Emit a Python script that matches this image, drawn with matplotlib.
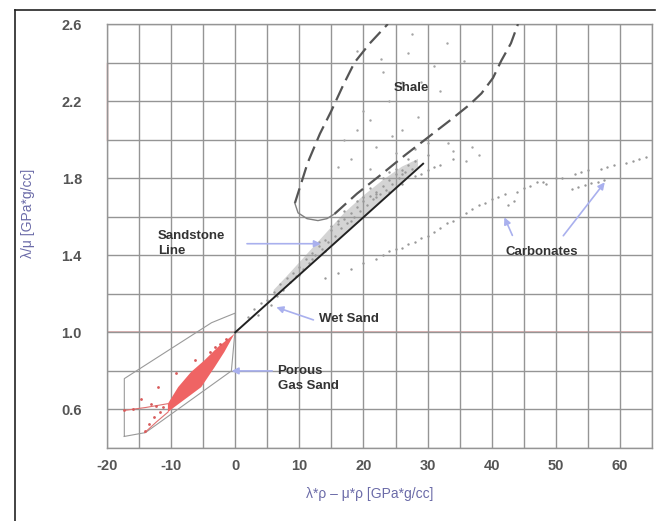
import matplotlib.pyplot as plt
from matplotlib.lines import Line2D

plt.rcParams['font.family'] = ['Liberation Sans', 'DejaVu Sans']
plt.rcParams['axes.unicode_minus'] = False

# --- data (x = lambda*rho - mu*rho, y = lambda/mu) ---
sand_line_x = [0, 29.3]
sand_line_y = [1.0, 1.875]

shale_left_x = [9.3, 11.3, 13.2, 15.0, 16.8, 18.6, 21.0, 23.8]
shale_left_y = [1.67, 1.88, 2.03, 2.15, 2.28, 2.40, 2.50, 2.60]
shale_bottom_x = [9.3, 9.8, 11.2, 12.9, 14.3, 15.5]
shale_bottom_y = [1.67, 1.62, 1.59, 1.58, 1.59, 1.615]
shale_right_x = [15.5, 19.0, 22.8, 26.5, 30.0, 33.5, 36.5, 38.4, 40.2, 41.5, 43.0, 44.1]
shale_right_y = [1.615, 1.72, 1.82, 1.92, 2.01, 2.10, 2.18, 2.24, 2.32, 2.41, 2.50, 2.60]

band_x = [6, 8, 11, 14, 17, 20, 23, 26, 28.5, 28.5, 26, 23, 20, 17, 14, 11, 8, 6]
band_y = [1.22, 1.29, 1.40, 1.51, 1.62, 1.71, 1.79, 1.86, 1.90,
          1.86, 1.78, 1.69, 1.60, 1.51, 1.42, 1.33, 1.24, 1.18]

sand_pts_x = [2, 3, 3.5, 4, 5, 5.5, 6, 6.5, 7, 7.5, 8, 8.5, 9, 9.5, 10, 10.5, 11, 11.5,
              12, 12.5, 13, 13.5, 14, 14.5, 15, 15.5, 16, 16.5, 17, 17.5, 18, 18.5,
              19, 19.5, 20, 20.5, 21, 21.5, 22, 22.5, 23, 23.5, 24, 24.5, 25, 25.5,
              26, 26.5, 27, 27.5, 28, 13, 15, 17, 19, 21, 23, 25, 27, 12, 16, 20, 24,
              18, 22, 26, 10, 14, 30, 31, 29]
sand_pts_y = [1.08, 1.12, 1.09, 1.15, 1.17, 1.14, 1.21, 1.19, 1.25, 1.22, 1.28, 1.26,
              1.31, 1.29, 1.34, 1.33, 1.38, 1.36, 1.41, 1.40, 1.45, 1.43, 1.48, 1.47,
              1.53, 1.50, 1.56, 1.54, 1.59, 1.57, 1.62, 1.60, 1.65, 1.63, 1.68, 1.66,
              1.71, 1.69, 1.73, 1.72, 1.76, 1.74, 1.79, 1.77, 1.82, 1.80, 1.84, 1.83,
              1.87, 1.85, 1.89, 1.47, 1.55, 1.63, 1.68, 1.75, 1.80, 1.85, 1.90, 1.38,
              1.58, 1.70, 1.83, 1.58, 1.72, 1.82, 1.30, 1.42, 1.92, 1.86, 1.82]

shale_pts_x = [17, 19, 21, 22.8, 24, 25, 26, 23, 27, 19, 22, 26, 28, 30, 16, 18, 30,
               33.2, 31, 35.7, 36, 38, 20, 24.5, 28.5, 32, 34, 37, 29, 21, 25, 27.5, 33]
shale_pts_y = [2.00, 2.05, 2.10, 2.42, 2.20, 2.28, 2.30, 2.35, 2.45, 2.46, 1.96, 2.05,
               1.95, 1.98, 1.86, 1.90, 2.20, 1.98, 2.38, 2.41, 1.89, 1.92, 2.15, 2.02,
               2.12, 2.25, 1.94, 1.96, 2.30, 1.85, 1.93, 2.55, 2.50]

carb_x = [14, 16, 18, 20, 22, 23, 24, 25, 26, 27, 28, 29, 30, 31, 32, 33, 34, 35, 36,
          37, 38, 39, 40, 41, 42, 44, 45, 46, 47, 48, 50, 51, 53, 54, 55, 57, 58, 59,
          61, 62, 63, 64, 52.5, 53.5, 54.5, 55.5, 56.5, 57.5, 22, 24, 26, 28, 30,
          32, 34, 42.5, 43.5, 48.5]
carb_y = [1.28, 1.31, 1.33, 1.36, 1.38, 1.40, 1.42, 1.43, 1.44, 1.46, 1.47, 1.49,
          1.50, 1.52, 1.54, 1.57, 1.58, 1.60, 1.62, 1.64, 1.66, 1.67, 1.69, 1.70,
          1.72, 1.73, 1.75, 1.76, 1.78, 1.78, 1.80, 1.80, 1.82, 1.83, 1.84, 1.85,
          1.86, 1.87, 1.88, 1.89, 1.90, 1.91, 1.745, 1.755, 1.765, 1.775, 1.782,
          1.79, 1.70, 1.73, 1.77, 1.81, 1.84, 1.87, 1.90, 1.66, 1.68, 1.77]

gas_fill_x = [-0.1, -2.7, -4.8, -6.9, -8.9, -10.5, -10.5, -9.5, -7.4, -5.3, -3.2, -1.7, -0.4]
gas_fill_y = [0.993, 0.924, 0.855, 0.794, 0.716, 0.63, 0.586, 0.612, 0.664, 0.716, 0.82, 0.898, 0.976]

gas_pts_x = [-12.1, -9.2, -6.3, -3.2, -2.4, -14.7, -13.1, -12.3, -11.3, -11.8, -12.6,
             -13.4, -14.1, -17.3, -16.0, -1.5, -4.0]
gas_pts_y = [0.716, 0.79, 0.855, 0.924, 0.94, 0.655, 0.63, 0.62, 0.612, 0.586, 0.56,
             0.526, 0.49, 0.595, 0.604, 0.965, 0.90]
gas_streak1_x = [-17.3, -14.0, -10.5]
gas_streak1_y = [0.595, 0.61, 0.63]
gas_streak2_x = [-14.1, -12.3, -10.5]
gas_streak2_y = [0.48, 0.535, 0.586]

outline_x = [-17.3, -17.3, -3.7, -1.5, 0.0, 0.0, -0.6, -14.0, -17.3]
outline_y = [0.46, 0.76, 1.05, 1.08, 1.10, 1.02, 0.80, 0.48, 0.46]

GRID = '#959595'
ARROW = '#a9b0ee'
TXT = '#333333'

fig = plt.figure(figsize=(6.57, 5.21), dpi=100)
ax = fig.add_axes([107 / 657, 73 / 521, 545 / 657, 424 / 521])

ax.set_xlim(-20, 65)
ax.set_ylim(0.4, 2.6)
ax.set_xticks([-20, -10, 0, 10, 20, 30, 40, 50, 60])
ax.set_yticks([0.6, 1.0, 1.4, 1.8, 2.2, 2.6])
ax.set_yticklabels(['0.6', '1.0', '1.4', '1.8', '2.2', '2.6'])
ax.set_xticks(range(-20, 66, 5), minor=True)
ax.set_yticks([0.4 + 0.2 * i for i in range(12)], minor=True)
ax.grid(True, which='both', color=GRID, lw=1.0)
ax.tick_params(which='both', length=0)
ax.tick_params(axis='y', pad=18, labelsize=10.5, labelcolor='#555555')
ax.tick_params(axis='x', pad=8, labelsize=10.5, labelcolor='#555555')
for lab in ax.get_xticklabels() + ax.get_yticklabels():
    lab.set_fontweight('bold')
for sp in ax.spines.values():
    sp.set_color(GRID)
    sp.set_linewidth(1.0)

# tinted grid lines as in the scan
ax.axhline(1.0, color='#dba0a0', lw=1.1, zorder=1)
ax.plot([-20, -20], [2.0, 2.4], color='#e08080', lw=1.0, zorder=1, clip_on=False)

# sandstone cluster
ax.fill(band_x, band_y, color='#a0a0a0', alpha=0.45, lw=0, zorder=2)
ax.scatter(sand_pts_x, sand_pts_y, s=3, color='#999999', lw=0, zorder=2)
ax.scatter(shale_pts_x, shale_pts_y, s=3, color='#a5a5a5', lw=0, zorder=2)
ax.scatter(carb_x, carb_y, s=3, color='#999999', lw=0, zorder=2)

# shale envelope
dash = dict(color='#555555', lw=1.6, ls=(0, (7, 3)), zorder=3)
ax.plot(shale_left_x, shale_left_y, **dash)
ax.plot(shale_bottom_x, shale_bottom_y, color='#808080', lw=1.0, zorder=3)
ax.plot(shale_right_x, shale_right_y, **dash)

# porous gas sand
ax.plot(outline_x, outline_y, color='#9a9a9a', lw=0.8, zorder=3)
ax.fill(gas_fill_x, gas_fill_y, color='#ef6464', lw=0, zorder=3)
ax.plot(gas_streak1_x, gas_streak1_y, color='#e07070', lw=0.8, zorder=3)
ax.plot(gas_streak2_x, gas_streak2_y, color='#e07070', lw=0.8, zorder=3)
ax.scatter(gas_pts_x, gas_pts_y, s=4, color='#d85a5a', lw=0, zorder=3)

# sandstone line
ax.plot(sand_line_x, sand_line_y, color='#222222', lw=1.4, zorder=4)

# labels and arrows
fs = 9.5
ax.text(27.5, 2.27, 'Shale', fontsize=fs, fontweight='bold', color=TXT, ha='center', va='center', zorder=5)
ax.text(-12.1, 1.46, 'Sandstone\nLine', fontsize=fs, fontweight='bold', color=TXT,
        ha='left', va='center', linespacing=1.3, zorder=5)
ax.text(13.0, 1.07, 'Wet Sand', fontsize=fs, fontweight='bold', color=TXT, ha='left', va='center', zorder=5)
ax.text(6.6, 0.76, 'Porous\nGas Sand', fontsize=fs, fontweight='bold', color=TXT,
        ha='left', va='center', linespacing=1.3, zorder=5)
ax.text(47.8, 1.415, 'Carbonates', fontsize=fs, fontweight='bold', color=TXT, ha='center', va='center', zorder=5)

arr = dict(arrowstyle='-|>', color=ARROW, lw=1.2, mutation_scale=10)
ax.annotate('', xy=(13.8, 1.46), xytext=(1.4, 1.46), arrowprops=arr, zorder=5)
ax.annotate('', xy=(6.0, 1.135), xytext=(12.6, 1.06), arrowprops=arr, zorder=5)
ax.annotate('', xy=(-1.0, 0.80), xytext=(6.2, 0.80), arrowprops=arr, zorder=5)
ax.annotate('', xy=(41.8, 1.61), xytext=(43.4, 1.49), arrowprops=arr, zorder=5)
ax.annotate('', xy=(57.9, 1.79), xytext=(50.9, 1.49), arrowprops=arr, zorder=5)

ax.set_xlabel('λ*ρ – μ*ρ [GPa*g/cc]', fontsize=10, color='#6b6ba8')
ax.set_ylabel('λ/μ [GPa*g/cc]', fontsize=10, color='#6b6ba8')
ax.xaxis.set_label_coords((370 - 107) / 545, (448 - 487) / 424)
ax.yaxis.set_label_coords((35 - 107) / 545, (448 - 213) / 424)

# scan frame (top and left edges)
fig.add_artist(Line2D([15 / 657, 15 / 657], [0, 1 - 10 / 521], transform=fig.transFigure, color='#222222', lw=1.2))
fig.add_artist(Line2D([15 / 657, 655 / 657], [1 - 10 / 521, 1 - 10 / 521], transform=fig.transFigure, color='#222222', lw=1.2))

fig.savefig('out.png', dpi=100)
